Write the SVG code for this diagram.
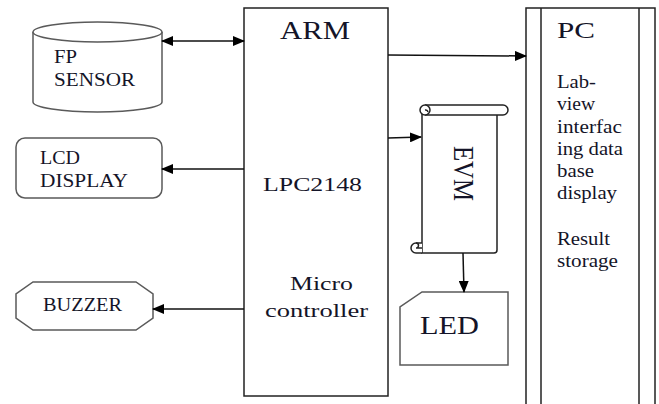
<svg xmlns="http://www.w3.org/2000/svg" width="659" height="404" viewBox="0 0 659 404">
<style>
text{font-family:"Liberation Serif","Times New Roman",serif;fill:#141428;font-size:18px;}
.shape{fill:#fff;stroke:#5a5a5a;stroke-width:1.5;}
.box{fill:#fff;stroke:#222;stroke-width:1.5;}
.conn{stroke:#111;stroke-width:1.5;fill:none;}
</style>
<defs>
<marker id="ah" markerUnits="userSpaceOnUse" markerWidth="12" markerHeight="10" refX="11" refY="5" orient="auto-start-reverse">
<path d="M0,0 L12,5 L0,10 z" fill="#000"/>
</marker>
</defs>
<rect width="659" height="404" fill="#fff"/>

<g id="arm">
<rect class="box" x="244" y="8" width="144" height="388"/>
<text x="280" y="39" style="font-size:26px;" textLength="70" lengthAdjust="spacingAndGlyphs">ARM</text>
<text x="263" y="191" textLength="99" lengthAdjust="spacingAndGlyphs">LPC2148</text>
<text x="290" y="290" textLength="63" lengthAdjust="spacingAndGlyphs">Micro</text>
<text x="265" y="317" textLength="103" lengthAdjust="spacingAndGlyphs">controller</text>
</g>

<g id="pc">
<rect class="box" x="526" y="8" width="129" height="400"/>
<line class="box" x1="541" y1="8" x2="541" y2="408"/>
<line class="box" x1="639" y1="8" x2="639" y2="408"/>
<text x="557" y="38" style="font-size:24px;" textLength="38" lengthAdjust="spacingAndGlyphs">PC</text>
<text x="557" y="88" textLength="39" lengthAdjust="spacingAndGlyphs">Lab-</text>
<text x="557" y="110" textLength="38" lengthAdjust="spacingAndGlyphs">view</text>
<text x="557" y="133" textLength="65" lengthAdjust="spacingAndGlyphs">interfac</text>
<text x="557" y="155" textLength="66" lengthAdjust="spacingAndGlyphs">ing data</text>
<text x="557" y="177" textLength="37" lengthAdjust="spacingAndGlyphs">base</text>
<text x="557" y="199" textLength="60" lengthAdjust="spacingAndGlyphs">display</text>
<text x="557" y="245" textLength="53" lengthAdjust="spacingAndGlyphs">Result</text>
<text x="557" y="267" textLength="61" lengthAdjust="spacingAndGlyphs">storage</text>
</g>

<g id="fp-sensor">
<path class="shape" d="M33,32 L33,102 A64.5,10 0 0 0 162,102 L162,32"/>
<ellipse class="shape" cx="97.5" cy="32" rx="64.5" ry="10"/>
<text x="54" y="63" textLength="23" lengthAdjust="spacingAndGlyphs">FP</text>
<text x="54" y="86" textLength="81" lengthAdjust="spacingAndGlyphs">SENSOR</text>
</g>

<g id="lcd">
<rect class="shape" x="16" y="138" width="146" height="60" rx="9"/>
<text x="40" y="164" textLength="40" lengthAdjust="spacingAndGlyphs">LCD</text>
<text x="40" y="187" textLength="88" lengthAdjust="spacingAndGlyphs">DISPLAY</text>
</g>

<g id="buzzer">
<polygon class="shape" points="33,282 136,282 153,294 153,318 136,330 33,330 16,318 16,294"/>
<text x="43" y="311" textLength="79" lengthAdjust="spacingAndGlyphs">BUZZER</text>
</g>

<g id="evm">
<path class="box" d="M422,110 L422,253 L494,253 Q497,253 497,250 L497,115"/>
<path class="box" d="M425,105 L503,105 A5,5 0 0 1 503,115 L425,115"/>
<circle class="box" cx="425" cy="110" r="5"/>
<path class="box" d="M428,112 A2.5,2.5 0 0 0 425,110"/>
<path class="box" d="M422,243 L416,243 A5,5 0 0 0 416,253 L422,253"/>
<path class="box" d="M416,243 A2.5,2.5 0 0 1 416,248 L422,248"/>
<text x="0" y="0" transform="translate(454,146) rotate(90)" style="font-size:29px;" textLength="55" lengthAdjust="spacingAndGlyphs">EVM</text>
</g>

<g id="led">
<polygon class="shape" points="422,292 508,292 508,365 400,365 400,307"/>
<text x="420" y="334" style="font-size:25px;" textLength="59" lengthAdjust="spacingAndGlyphs">LED</text>
</g>

<g id="connectors">
<line class="conn" x1="162" y1="41" x2="244" y2="41" marker-start="url(#ah)" marker-end="url(#ah)"/>
<line class="conn" x1="388" y1="55" x2="526" y2="56" marker-end="url(#ah)"/>
<line class="conn" x1="388" y1="138" x2="421" y2="137" marker-end="url(#ah)"/>
<line class="conn" x1="244" y1="169" x2="162" y2="169" marker-end="url(#ah)"/>
<line class="conn" x1="244" y1="309" x2="153" y2="309" marker-end="url(#ah)"/>
<line class="conn" x1="463" y1="253" x2="464" y2="292" marker-end="url(#ah)"/>
</g>
</svg>
